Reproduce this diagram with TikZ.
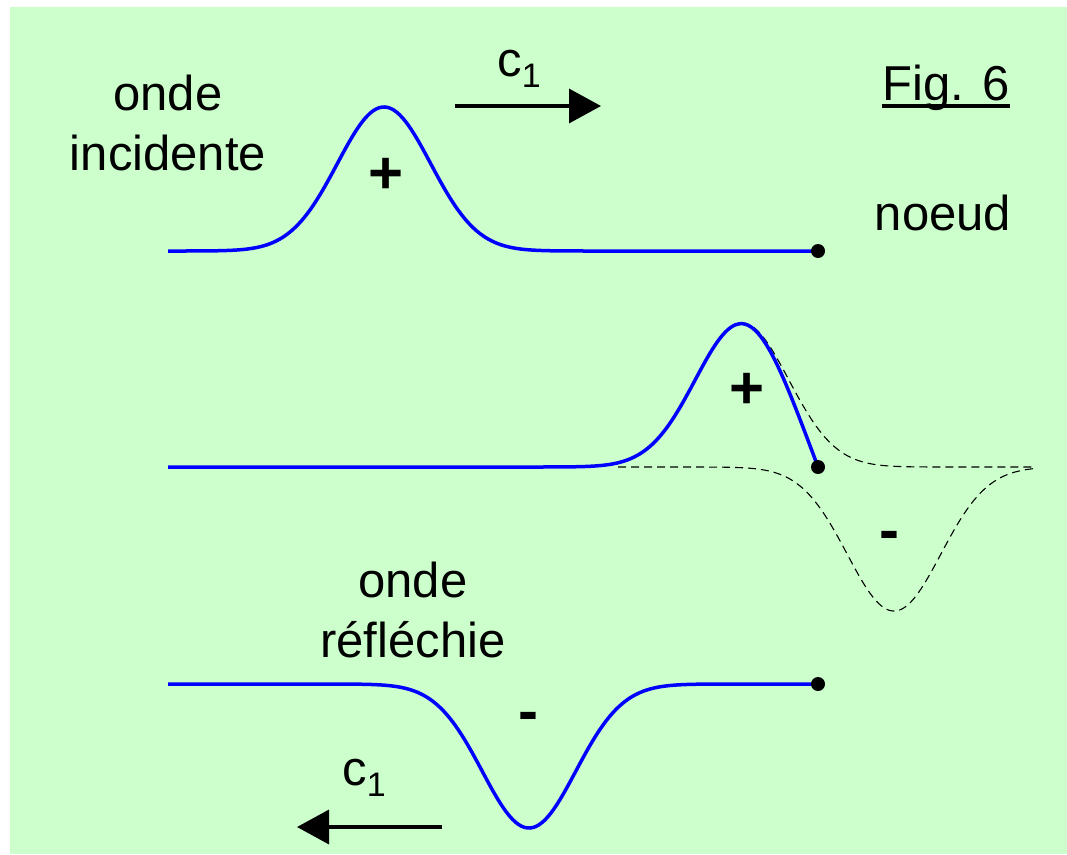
\documentclass[tikz,border=0pt]{standalone}
\usepackage{fontspec}
\setmainfont{Liberation Sans}
\usetikzlibrary{arrows.meta}
\definecolor{bggreen}{HTML}{CCFFCC}
\definecolor{wave}{HTML}{0000FF}
\begin{document}
\begin{tikzpicture}[x=1pt,y=-1pt,
  declare function={g(\t,\c)=144*exp(max(-20,-0.5*((\t-\c)/46.7)*((\t-\c)/46.7)));},
  lbl/.style={font=\fontsize{49}{58}\selectfont, inner sep=0pt, anchor=base},
  sgn/.style={font=\fontsize{60}{66}\selectfont\bfseries, inner sep=0pt},
  wavestyle/.style={draw=wave, line width=3.5pt, line join=round},
  ghost/.style={draw=black, line width=1.1pt, dash pattern=on 8pt off 5pt},
  dotstyle/.style={circle, fill=black, inner sep=0pt, minimum size=14pt},
  speed/.style={line width=3.5pt, -{Triangle[length=32pt,width=34pt]}}]
\useasboundingbox (0,0) rectangle (1067,854);
\fill[bggreen] (10,7) rectangle (1067,854);

% incident wave
\draw[wavestyle] plot[domain=168:818, samples=220] ({\x},{251-g(\x,384)});
\node[dotstyle] (n1) at (818,251) {};

% superposition at the node
\draw[ghost] plot[domain=742:1035, samples=150] ({\x},{467-g(\x,742)});
\draw[ghost] plot[domain=618:1035, samples=180] ({\x},{467+g(\x,894)});
\draw[wavestyle] plot[domain=168:818, samples=260] ({\x},{467-g(\x,742)+g(\x,894)});
\node[dotstyle] (n2) at (818,467) {};

% reflected wave
\draw[wavestyle] plot[domain=168:818, samples=220] ({\x},{684+g(\x,529)});
\node[dotstyle] (n3) at (818,684) {};

% labels
\node[lbl] (t1) at (168,110) {onde};
\node[lbl] (t2) at (168,170) {incidente};
\node[lbl] (t3) at (943,230) {noeud};
\node[lbl] (fig) at (946,100) {Fig. 6};
\draw[line width=3.5pt] ([yshift=-6pt]fig.base west) -- ([yshift=-6pt]fig.base east);
\node[lbl] (t4) at (413,597) {onde};
\node[lbl] (t5) at (413,657) {réfléchie};

\node[sgn] (p1) at (386,176) {+};
\node[sgn] (p2) at (747,391) {+};
\node[sgn] (m1) at (889,541) {-};
\node[sgn] (m2) at (528,722) {-};

% speeds
\coordinate (a1) at (455,106);
\coordinate (b1) at (601,106);
\draw[speed] (a1) -- (b1);
\node[lbl] (c1) at (519,76) {c\raisebox{-11pt}{\fontsize{34}{40}\selectfont 1}};
\coordinate (a2) at (442,827);
\coordinate (b2) at (297,827);
\draw[speed] (a2) -- (b2);
\node[lbl] (c2) at (364,785) {c\raisebox{-11pt}{\fontsize{34}{40}\selectfont 1}};
\end{tikzpicture}
\end{document}
